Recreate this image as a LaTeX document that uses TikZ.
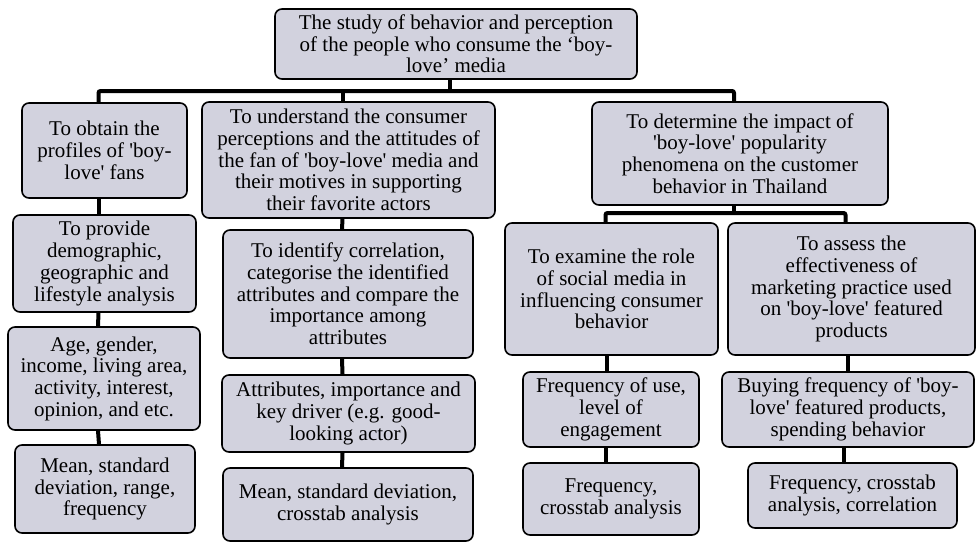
\documentclass[tikz,border=0pt]{standalone}
\usepackage{fontspec}
\newfontfamily\boxfont{Liberation Serif}
\definecolor{boxfill}{RGB}{210,210,222}
\begin{document}
\begin{tikzpicture}[x=1pt,y=-1pt,
  box/.style={draw=black, line width=1.6pt, rounded corners=7pt, fill=boxfill,
    align=center, inner sep=0pt, font=\fontsize{21}{21.7}\boxfont},
  conn/.style={line width=4pt, draw=black, rounded corners=2pt}]
\path[use as bounding box] (0,0) rectangle (976,543);
% top
\node[box, minimum width=362pt, minimum height=70pt] (top) at (456,44)
  {The study of behavior and perception\\of the people who consume the ‘boy-\\love’ media};
% column 1
\node[box, minimum width=165pt, minimum height=95pt] (c1a) at (104.5,150.5)
  {To obtain the\\profiles of 'boy-\\love' fans};
\node[box, minimum width=183pt, minimum height=97pt] (c1b) at (104.5,263.5)
  {To provide\\demographic,\\geographic and\\lifestyle analysis};
\node[box, minimum width=192pt, minimum height=103pt] (c1c) at (104,378.5)
  {Age, gender,\\income, living area,\\activity, interest,\\opinion, and etc.};
\node[box, minimum width=180pt, minimum height=88pt] (c1d) at (105,489)
  {Mean, standard\\deviation, range,\\frequency};
% column 2
\node[box, minimum width=293pt, minimum height=116pt] (c2a) at (348.5,160)
  {To understand the consumer\\perceptions and the attitudes of\\the fan of 'boy-love' media and\\their motives in supporting\\their favorite actors};
\node[box, minimum width=250pt, minimum height=128pt] (c2b) at (348,294)
  {To identify correlation,\\categorise the identified\\attributes and compare the\\importance among\\attributes};
\node[box, minimum width=253pt, minimum height=77pt] (c2c) at (348.5,413.5)
  {Attributes, importance and\\key driver (e.g. good-\\looking actor)};
\node[box, minimum width=250pt, minimum height=73pt] (c2d) at (348,504.5)
  {Mean, standard deviation,\\crosstab analysis};
% column 3
\node[box, minimum width=296pt, minimum height=103pt] (c3) at (740,153.5)
  {To determine the impact of\\'boy-love' popularity\\phenomena on the customer\\behavior in Thailand};
\node[box, minimum width=213pt, minimum height=132pt] (c3a) at (611.5,289)
  {To examine the role\\of social media in\\influencing consumer\\behavior};
\node[box, minimum width=176pt, minimum height=75pt] (c3a2) at (611,409.5)
  {Frequency of use,\\level of\\engagement};
\node[box, minimum width=176pt, minimum height=72pt] (c3a3) at (611,499)
  {Frequency,\\crosstab analysis};
\node[box, minimum width=247pt, minimum height=132pt] (c3b) at (851.5,289)
  {To assess the\\effectiveness of\\marketing practice used\\on 'boy-love' featured\\products};
\node[box, minimum width=252pt, minimum height=75pt] (c3b2) at (848,409.5)
  {Buying frequency of 'boy-\\love' featured products,\\spending behavior};
\node[box, minimum width=209pt, minimum height=65pt] (c3b3) at (852.5,495.5)
  {Frequency, crosstab\\analysis, correlation};
% connectors
\coordinate (mb) at (450,91);
\coordinate (sb) at (734,213);
\draw[conn] ([xshift=-6pt]top.south) -- ([xshift=-6pt]top.south |- mb);
\draw[conn] ([xshift=-6pt]c1a.north) |- (mb) -| ([xshift=-6pt]c3.north);
\draw[conn] ([xshift=-6pt]c2a.north) -- ([xshift=-6pt]c2a.north |- mb);
\draw[conn] ([xshift=-6pt]c3.south) -- ([xshift=-6pt]c3.south |- sb);
\draw[conn] ([xshift=-6pt]c3a.north) |- (sb) -| ([xshift=-6pt]c3b.north);
\draw[conn] ([xshift=-6pt]c1a.south) -- ([xshift=-6pt]c1b.north);
\draw[conn] ([xshift=-6pt]c1b.south) -- ([xshift=-6pt]c1c.north);
\draw[conn] ([xshift=-6pt]c1c.south) -- ([xshift=-6pt]c1d.north);
\draw[conn] ([xshift=-6pt]c2a.south) -- ([xshift=-6pt]c2b.north);
\draw[conn] ([xshift=-6pt]c2b.south) -- ([xshift=-6pt]c2c.north);
\draw[conn] ([xshift=-6pt]c2c.south) -- ([xshift=-6pt]c2d.north);
\draw[conn] ([xshift=-5pt]c3a.south) -- ([xshift=-5pt]c3a.south |- c3a2.north);
\draw[conn] ([xshift=-5pt]c3a2.south) -- ([xshift=-5pt]c3a2.south |- c3a3.north);
\draw[conn] ([xshift=-4pt]c3b.south) -- ([xshift=-4pt]c3b.south |- c3b2.north);
\draw[conn] ([xshift=-4pt]c3b2.south) -- ([xshift=-4pt]c3b2.south |- c3b3.north);
\end{tikzpicture}
\end{document}
